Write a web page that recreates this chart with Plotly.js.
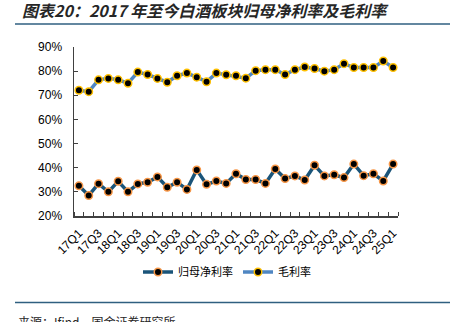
<!DOCTYPE html>
<html>
<head>
<meta charset="utf-8">
<script src="https://cdn.plot.ly/plotly-3.0.1.min.js"></script>
<style>html,body{margin:0;padding:0;background:#fff;}#chart{width:450px;height:322px;}</style>
</head>
<body>
<div id="chart"></div>
<script>
const categories = ["17Q1","17Q2","17Q3","17Q4","18Q1","18Q2","18Q3","18Q4","19Q1","19Q2","19Q3","19Q4","20Q1","20Q2","20Q3","20Q4","21Q1","21Q2","21Q3","21Q4","22Q1","22Q2","22Q3","22Q4","23Q1","23Q2","23Q3","23Q4","24Q1","24Q2","24Q3","24Q4","25Q1"];
const netMargin = [32.5,28.5,33.4,30.0,34.4,30.0,33.3,34.0,36.2,31.9,34.0,31.0,39.1,33.1,34.5,33.5,37.5,35.1,35.1,33.5,39.5,35.5,36.6,34.9,41.0,36.6,37.1,35.9,41.5,36.7,37.5,34.5,41.5];
const grossMargin = [72.1,71.5,76.4,77.0,76.4,75.0,79.6,78.6,77.0,75.4,78.1,79.2,77.5,75.6,79.2,78.5,78.1,77.1,80.2,80.6,80.6,78.6,80.6,81.7,81.1,80.0,80.6,83.1,81.5,81.5,81.5,84.2,81.5];
const seriesNames = ["归母净利率","毛利率"];
const yTicks = [20,30,40,50,60,70,80,90];
const yTickText = ["20%","30%","40%","50%","60%","70%","80%","90%"];

const xIdx = categories.map((_, i) => i);
const labelIdx = xIdx.filter(i => i % 2 === 0);
const cjk = '"Noto Sans CJK SC", "Noto Sans", sans-serif';
const latin = '"Liberation Sans", Arial, sans-serif';

const traces = [
  {x: xIdx, y: netMargin, name: seriesNames[0], type: 'scatter', mode: 'lines+markers',
   line: {color: '#1A5479', width: 3.5},
   marker: {color: '#000000', size: 7.5, line: {color: '#F79646', width: 1.5}}},
  {x: xIdx, y: grossMargin, name: seriesNames[1], type: 'scatter', mode: 'lines+markers',
   line: {color: '#4F86C2', width: 3.5},
   marker: {color: '#000000', size: 7.5, line: {color: '#FFC000', width: 1.5}}}
];

const layout = {
  width: 450, height: 322,
  margin: {l: 74, r: 52, t: 47, b: 106},
  paper_bgcolor: '#ffffff', plot_bgcolor: '#ffffff',
  showlegend: true,
  title: {text: '<b><i>图表20：2017 年至今白酒板块归母净利率及毛利率</i></b>',
          font: {family: cjk, size: 16, color: '#262626'},
          xref: 'container', x: 22/450, xanchor: 'left', yref: 'container', y: 1 - 11/322, yanchor: 'middle'},
  xaxis: {
    range: [-0.5, 32.5], showgrid: false, zeroline: false,
    showline: true, linecolor: '#404040', linewidth: 1.5,
    tickmode: 'array', tickvals: labelIdx, ticktext: labelIdx.map(i => categories[i]),
    ticks: '', tickangle: -45, ticklabelstandoff: 4,
    tickfont: {family: latin, size: 12, color: '#000'},
    minor: {tickmode: 'linear', tick0: -0.5, dtick: 1, ticks: 'inside', ticklen: 4, tickcolor: '#404040', tickwidth: 1}
  },
  yaxis: {
    range: [20, 90], showgrid: false, zeroline: false,
    showline: true, linecolor: '#404040', linewidth: 1.5,
    tickmode: 'array', tickvals: yTicks, ticktext: yTickText,
    ticks: 'inside', ticklen: 4, tickcolor: '#404040', tickwidth: 1,
    ticklabelstandoff: 8,
    tickfont: {family: latin, size: 12, color: '#000'}
  },
  legend: {orientation: 'h', xref: 'container', x: 227/450, xanchor: 'center',
           yref: 'container', y: 1 - 272/322, yanchor: 'middle',
           font: {family: cjk, size: 11, color: '#000'}, itemwidth: 30, tracegroupgap: 0},
  shapes: [
    {type: 'line', xref: 'paper', yref: 'paper', x0: (15-74)/324, x1: (450-74)/324, y0: (216-24)/169, y1: (216-24)/169,
     line: {color: '#2F5F80', width: 1.5}},
    {type: 'line', xref: 'paper', yref: 'paper', x0: (15-74)/324, x1: (450-74)/324, y0: (216-302.5)/169, y1: (216-302.5)/169,
     line: {color: '#2F5F80', width: 1.5}}
  ],
  annotations: [
    {text: '来源：Ifind，国金证券研究所', xref: 'paper', yref: 'paper', x: (16-74)/324, xanchor: 'left',
     y: (216-311)/169, yanchor: 'top', showarrow: false, font: {family: cjk, size: 12, color: '#262626'}}
  ]
};

Plotly.newPlot('chart', traces, layout, {displayModeBar: false, staticPlot: true});
</script>
</body>
</html>
